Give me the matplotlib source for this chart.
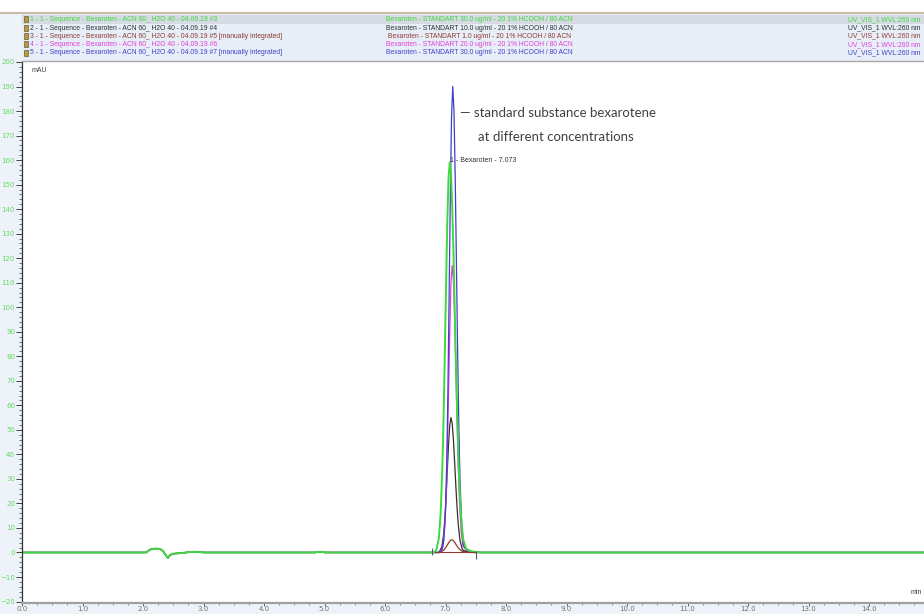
import matplotlib
matplotlib.use('Agg')
import matplotlib.pyplot as plt
from matplotlib.patches import Rectangle
from matplotlib.ticker import MultipleLocator
import numpy as np

# shared baseline (min, mAU)
base_t = [0.0, 2.05, 2.12, 2.2, 2.28, 2.33, 2.38, 2.41, 2.45, 2.5, 2.6, 2.83, 3.0, 4.85, 4.93, 5.0, 6.8]
base_v = [0.0, 0.0, 1.2, 1.6, 1.5, 0.6, -1.2, -2.2, -1.0, -0.5, -0.3, 0.3, 0.0, 0.0, 0.3, 0.0, 0.0]
tail_t = [7.6, 15.0]
tail_v = [0.0, 0.0]

# peak region of each injection
green_t = [6.81, 6.85, 6.89, 6.92, 6.95, 6.97, 6.99, 7.01, 7.03, 7.05, 7.07, 7.09, 7.11, 7.13, 7.15, 7.17, 7.19, 7.22, 7.25, 7.29, 7.34, 7.42, 7.57]
green_v = [0, 1.1, 5.8, 16, 36.5, 57, 83, 110, 135, 152.6, 159, 154.7, 142, 124, 102, 79.5, 58.7, 33.5, 16.9, 5.6, 1.5, 0.5, 0]
black_t = [6.88, 6.90, 6.94, 6.97, 6.99, 7.01, 7.03, 7.05, 7.07, 7.09, 7.11, 7.13, 7.15, 7.17, 7.19, 7.21, 7.24, 7.28, 7.35, 7.49]
black_v = [0, 0.3, 2.4, 7.4, 13.7, 22.6, 33.4, 44, 52, 55, 52.7, 46.3, 37.3, 27.5, 18.7, 11.6, 4.8, 1.1, 0.3, 0]
brown_t = [6.88, 6.94, 6.98, 7.02, 7.05, 7.08, 7.10, 7.12, 7.15, 7.18, 7.22, 7.26, 7.32, 7.40]
brown_v = [0, 0.4, 1.2, 2.6, 3.9, 4.9, 5.2, 5.0, 4.2, 3.0, 1.6, 0.7, 0.2, 0]
magenta_t = [6.91, 6.93, 6.96, 6.99, 7.01, 7.03, 7.05, 7.07, 7.09, 7.11, 7.13, 7.15, 7.17, 7.19, 7.21, 7.23, 7.26, 7.29, 7.35, 7.43, 7.56]
magenta_v = [0, 0.5, 2.8, 10.8, 22.3, 40.6, 64.5, 90, 109.5, 117, 111.6, 96.8, 76.4, 54.9, 35.8, 21.3, 8.2, 2.5, 0.8, 0.3, 0]
blue_t = [6.90, 6.94, 6.97, 7.00, 7.02, 7.04, 7.06, 7.08, 7.10, 7.12, 7.14, 7.16, 7.18, 7.20, 7.22, 7.24, 7.27, 7.30, 7.36, 7.44, 7.57]
blue_v = [0, 0.9, 4.6, 17.6, 36, 66, 105, 146, 178, 190, 180, 154, 119, 83, 52, 29, 10, 2.8, 1.0, 0.4, 0]

# integration delimiters (min)
delim_t = [6.78, 7.50]

legend_left = [
    '1 - 1 - Sequence - Bexaroten - ACN 60_ H2O 40 - 04.09.19 #3',
    '2 - 1 - Sequence - Bexaroten - ACN 60_ H2O 40 - 04.09.19 #4',
    '3 - 1 - Sequence - Bexaroten - ACN 60_ H2O 40 - 04.09.19 #5 [manually integrated]',
    '4 - 1 - Sequence - Bexaroten - ACN 60_ H2O 40 - 04.09.19 #6',
    '5 - 1 - Sequence - Bexaroten - ACN 60_ H2O 40 - 04.09.19 #7 [manually integrated]',
]
legend_mid = [
    'Bexaroten - STANDART 30.0 ug/ml - 20 1% HCOOH / 80 ACN',
    'Bexaroten - STANDART 10.0 ug/ml - 20 1% HCOOH / 80 ACN',
    'Bexaroten - STANDART 1.0 ug/ml - 20 1% HCOOH / 80 ACN',
    'Bexaroten - STANDART 20.0 ug/ml - 20 1% HCOOH / 80 ACN',
    'Bexaroten - STANDART 30.0 ug/ml - 20 1% HCOOH / 80 ACN',
]
legend_right = 'UV_VIS_1 WVL:260 nm'
colors = ['#3fd83f', '#303030', '#8e3b33', '#e040d8', '#4040c8']

W, H = 924, 614
def fx(x):
    return x / W
def fy(y):
    return 1 - y / H

fig = plt.figure(figsize=(9.24, 6.14), dpi=100, facecolor='#eef3fa')
ax = fig.add_axes([fx(22), fy(603), fx(924 - 22), (603 - 62) / H])
ax.set_facecolor('white')

def trace(pt, pv):
    return base_t + pt + tail_t, base_v + pv + tail_v

for (pt, pv), c, lw in [((brown_t, brown_v), colors[2], 0.9),
                        ((black_t, black_v), colors[1], 0.9),
                        ((magenta_t, magenta_v), colors[3], 0.9),
                        ((blue_t, blue_v), colors[4], 0.9),
                        ((green_t, green_v), colors[0], 1.4)]:
    t, v = trace(pt, pv)
    ax.plot(t, v, color=c, lw=lw)

# brown integration baseline and delimiters
ax.plot([delim_t[0] + 0.04, delim_t[1]], [0, 0], color=colors[2], lw=0.8)
ax.vlines(delim_t[0], -1, 2, color='#555577', lw=0.8)
ax.vlines(delim_t[1], -2.5, 0.5, color='#555577', lw=0.8)

ax.set_xlim(0, (924 - 22) / 60.5)
ax.set_ylim(-20.6, 200)
ax.xaxis.set_minor_locator(MultipleLocator(0.25))
ax.yaxis.set_major_locator(MultipleLocator(10))
ax.yaxis.set_minor_locator(MultipleLocator(2))
ax.set_xticks(np.arange(0, 15, 1.0))
ax.set_xticklabels(['%.1f' % v for v in np.arange(0, 15, 1.0)])
ax.tick_params(axis='y', which='major', length=4, width=0.7, labelsize=5, pad=1, color='#404040',
               labelcolor='#66d866')
ax.tick_params(axis='y', which='minor', length=2, width=0.5, color='#404040')
ax.tick_params(axis='x', which='major', length=2, width=0.7, labelsize=5, pad=0, color='#606060',
               labelcolor='#707070')
ax.tick_params(axis='x', which='minor', length=1.5, width=0.5, color='#606060')
for s in ['top', 'right']:
    ax.spines[s].set_visible(False)
ax.spines['left'].set_color('#303030')
ax.spines['left'].set_linewidth(0.9)
ax.spines['bottom'].set_color('#a0a0a0')
ax.spines['bottom'].set_linewidth(1.6)

ax.text(fx(32), fy(70), 'mAU', transform=fig.transFigure, fontsize=5, color='#404040',
        family='Liberation Sans', va='center')
ax.text(fx(911), fy(592), 'min', transform=fig.transFigure, fontsize=5, color='#404040',
        family='Liberation Sans', va='center')
ax.text(7.073, 160, '1 - Bexaroten - 7.073', fontsize=5, color='#303030',
        family='Liberation Sans', va='center', ha='left')

fig.text(fx(460), fy(113), '\u2014 standard substance bexarotene', fontsize=9.5, color='#404040',
         family='Lato', va='center')
fig.text(fx(478), fy(137), 'at different concentrations', fontsize=9.5, color='#404040',
         family='Lato', va='center')

# header band
fig.patches.append(Rectangle((0, fy(12)), 1, fy(0) - fy(12), transform=fig.transFigure,
                             facecolor='white', edgecolor='none', zorder=0))
fig.patches.append(Rectangle((fx(22), fy(61)), 1, fy(13) - fy(61), transform=fig.transFigure,
                             facecolor='#e8eef7', edgecolor='none', zorder=1))
fig.patches.append(Rectangle((fx(22), fy(23.5)), 1, fy(15) - fy(23.5), transform=fig.transFigure,
                             facecolor='#d6dae3', edgecolor='none', zorder=1))
fig.lines.append(plt.Line2D([0, 1], [fy(12.5), fy(12.5)], transform=fig.transFigure,
                            color='#c8bea8', lw=1.5))
fig.lines.append(plt.Line2D([fx(22), 1], [fy(61), fy(61)], transform=fig.transFigure,
                            color='#a8a8a8', lw=1.0))

row_y = [19.3, 28, 36.2, 44.3, 52.5]
for i in range(5):
    y = row_y[i]
    fig.patches.append(Rectangle((fx(24), fy(y + 3)), 4 / W, 6 / H, transform=fig.transFigure,
                                 facecolor='#b89a3a', edgecolor='#504020', lw=0.4, zorder=2))
    fig.text(fx(30), fy(y), legend_left[i], fontsize=4.9, color=colors[i],
             family='Liberation Sans', va='center', zorder=3)
    fig.text(fx(479), fy(y), legend_mid[i], fontsize=4.9, color=colors[i],
             family='Liberation Sans', va='center', ha='center', zorder=3)
    fig.text(fx(920), fy(y), legend_right, fontsize=4.9, color=colors[i],
             family='Liberation Sans', va='center', ha='right', zorder=3)

fig.savefig('out.png', dpi=100, facecolor=fig.get_facecolor())
